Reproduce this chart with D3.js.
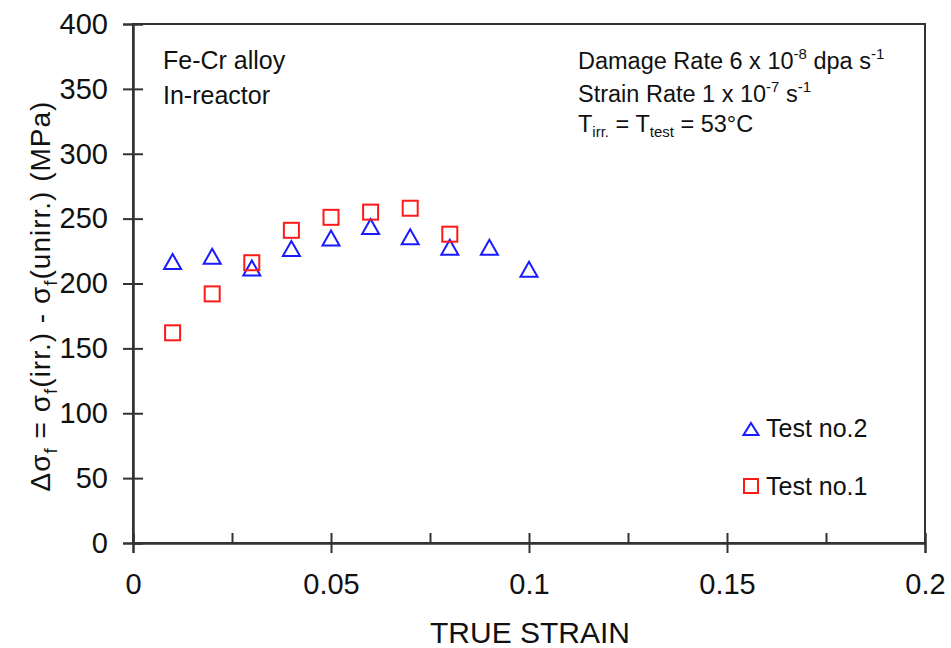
<!DOCTYPE html>
<html><head><meta charset="utf-8">
<script src="https://cdn.jsdelivr.net/npm/d3@7"></script>
<style>
html,body{margin:0;padding:0;background:#fff;}
text{font-family:"Liberation Sans",Arial,sans-serif;fill:#111;}
</style></head>
<body>
<svg id="chart" width="951" height="648"></svg>
<script>
// ---- data ----
const strainTest2 = [0.01,0.02,0.03,0.04,0.05,0.06,0.07,0.08,0.09,0.10];
const stressTest2 = [217,221,212,227,235,244,236,228,228,211];
const strainTest1 = [0.01,0.02,0.03,0.04,0.05,0.06,0.07,0.08];
const stressTest1 = [162,192,216,241,251,255,258,238];
const xMajorTicks = [0,0.05,0.10,0.15,0.20];
const xTickLabels = ["0","0.05","0.1","0.15","0.2"];
const xMinorTicks = [0,0.025,0.05,0.075,0.10,0.125,0.15,0.175,0.20];
const yTicks = [0,50,100,150,200,250,300,350,400];
const seriesNames = ["Test no.2","Test no.1"];
const seriesColors = ["#1a1aff","#ff1a1a"];

const svg = d3.select("#chart");
const x = d3.scaleLinear().domain([0,0.2]).range([133,925]);
const y = d3.scaleLinear().domain([0,400]).range([543,24]);
const axisColor = "#333";

// frame
svg.append("rect").attr("x",x(0)).attr("y",y(400)).attr("width",x(0.2)-x(0)).attr("height",y(0)-y(400))
  .attr("fill","none").attr("stroke",axisColor).attr("stroke-width",2);

function styleAxis(g){
  g.select(".domain").attr("stroke",axisColor).attr("stroke-width",2);
  g.selectAll(".tick line").attr("stroke",axisColor).attr("stroke-width",2);
}

// y axis (left ticks with labels)
const gy = svg.append("g").attr("transform",`translate(${x(0)},0)`)
  .call(d3.axisLeft(y).tickValues(yTicks).tickSize(10).tickPadding(15).tickFormat(d3.format("d")));
styleAxis(gy);
gy.selectAll("text").style("font-size","29px").attr("fill","#111").style("font-family",'"Liberation Sans",Arial,sans-serif');
// inner y ticks
const gy2 = svg.append("g").attr("transform",`translate(${x(0)},0)`)
  .call(d3.axisRight(y).tickValues(yTicks).tickSize(10).tickFormat(""));
styleAxis(gy2);

// x axis
const gx = svg.append("g").attr("transform",`translate(0,${y(0)})`)
  .call(d3.axisBottom(x).tickValues(xMajorTicks).tickSize(10).tickPadding(20).tickFormat((d,i)=>xTickLabels[i]));
styleAxis(gx);
gx.selectAll("text").style("font-size","29px").attr("fill","#111").style("font-family",'"Liberation Sans",Arial,sans-serif');
const gx2 = svg.append("g").attr("transform",`translate(0,${y(0)})`)
  .call(d3.axisTop(x).tickValues(xMinorTicks).tickSize(10).tickFormat(""));
styleAxis(gx2);

// axis titles
svg.append("text").attr("x",530).attr("y",643).attr("text-anchor","middle")
  .style("font-size","30px").text("TRUE STRAIN");

const yt = svg.append("text").attr("transform","translate(50,296) rotate(-90)")
  .attr("text-anchor","middle").style("font-size","28px").style("letter-spacing","1px");
const parts = [["Δσ",0],["f",1],[" = σ",0],["f",1],["(irr.) - σ",0],["f",1],["(unirr.) (MPa)",0]];
parts.forEach(([t,sub],i)=>{
  const ts = yt.append("tspan").text(t);
  if(sub){ ts.attr("dy","7").style("font-size","19px"); }
  else if(i>0){ ts.attr("dy","-7"); }
});

// markers
const triPath = (w,h)=>`M0,${-h/2}L${w/2},${h/2}L${-w/2},${h/2}Z`;
svg.append("g").selectAll("path").data(strainTest2.map((s,i)=>[s,stressTest2[i]]))
  .join("path").attr("d",triPath(17,15))
  .attr("transform",d=>`translate(${x(d[0])},${y(d[1])})`)
  .attr("fill","none").attr("stroke",seriesColors[0]).attr("stroke-width",2);
svg.append("g").selectAll("rect").data(strainTest1.map((s,i)=>[s,stressTest1[i]]))
  .join("rect").attr("x",d=>x(d[0])-7.5).attr("y",d=>y(d[1])-7.5).attr("width",15).attr("height",15)
  .attr("fill","none").attr("stroke",seriesColors[1]).attr("stroke-width",2);

// annotations
const ann1 = svg.append("g").style("font-size","25px");
ann1.append("text").attr("x",163).attr("y",69).text("Fe-Cr alloy");
ann1.append("text").attr("x",163).attr("y",104).text("In-reactor");

const ann2 = svg.append("g").style("font-size","23.5px");
function rich(yPos, segs){
  const t = ann2.append("text").attr("x",578).attr("y",yPos);
  let prev = 0;
  segs.forEach(([s,shift])=>{
    const ts = t.append("tspan").text(s);
    const dy = shift - prev;
    if(dy!==0) ts.attr("dy",dy);
    if(shift!==0) ts.style("font-size","15px");
    prev = shift;
  });
}
rich(69,[["Damage Rate 6 x 10",0],["-8",-10],[" dpa s",0],["-1",-10]]);
rich(102,[["Strain Rate 1 x 10",0],["-7",-10],[" s",0],["-1",-10]]);
rich(132,[["T",0],["irr.",5],[" = T",0],["test",5],[" = 53°C",0]]);

// legend
const lg = svg.append("g");
lg.append("path").attr("d",triPath(15,12)).attr("transform","translate(751,429)")
  .attr("fill","none").attr("stroke",seriesColors[0]).attr("stroke-width",2);
lg.append("text").attr("x",766).attr("y",437).style("font-size","25px").text(seriesNames[0]);
lg.append("rect").attr("x",744).attr("y",479).attr("width",14).attr("height",14)
  .attr("fill","none").attr("stroke",seriesColors[1]).attr("stroke-width",2);
lg.append("text").attr("x",766).attr("y",495).style("font-size","25px").text(seriesNames[1]);
</script>
</body></html>
